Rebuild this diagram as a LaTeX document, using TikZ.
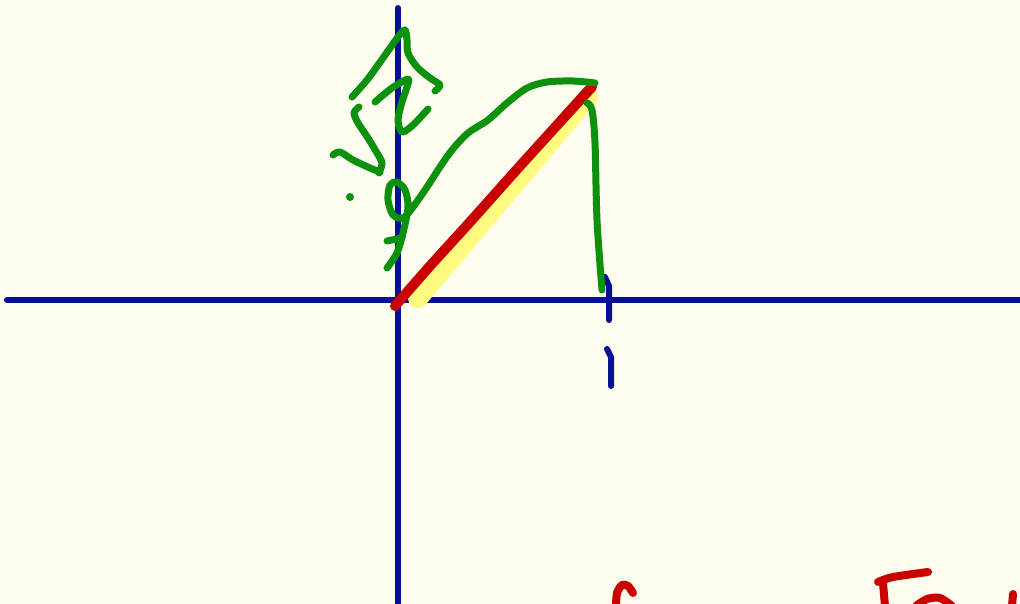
\documentclass[tikz,border=0pt]{standalone}
\usepackage{xcolor}
\usepackage{tikz}
\definecolor{paper}{RGB}{254,252,238}
\definecolor{inkblue}{RGB}{6,16,150}
\definecolor{inkgreen}{RGB}{12,145,12}
\definecolor{inkred}{RGB}{202,0,0}
\definecolor{marker}{RGB}{255,250,128}
\tikzset{every picture/.style={line cap=round,line join=round},
 blueink/.style={inkblue,line width=6pt},
 greenink/.style={inkgreen,line width=7pt},
 redink/.style={inkred,line width=8pt},
 highlight/.style={marker,line width=20pt}}

\begin{document}
\begin{tikzpicture}[x=1pt,y=-1pt]
 \fill[paper] (0,0) rectangle (1020,604);
 \useasboundingbox (0,0) rectangle (1020,604);
 % axes and unit tick
 \draw[blueink] (7,300)--(1020,300);
 \draw[blueink] (398,8)--(398,604);
 \draw[blueink] (605,277)--(609,286)--(609,320);
 \draw[blueink] (607,349)--(611,357)--(611,386);
 % highlighted diagonal
 \draw[highlight] (418,298)--(588,97);
 \draw[blueink] (397,301)--(587,89);
 \draw[redink,line width=10pt] plot[smooth] coordinates
  {(395,306) (430,266) (470,222) (520,166) (560,122) (592,87)};
 % sqrt 2 scribble
 \draw[greenink] plot[smooth] coordinates
  {(352,97) (367,80) (383,58) (398,37) (405,30) (407,40) (408,53)
   (417,67) (430,78) (440,85) (435,91)};
 \draw[greenink] plot[smooth] coordinates
  {(375,102) (392,88) (408,79) (407,87) (402,102) (398,120) (402,132)
   (413,125) (428,109)};
 \draw[greenink] plot[smooth] coordinates
  {(359,107) (354,113) (358,123) (368,138) (377,153) (382,163) (379,173)};
 \draw[greenink] plot[smooth] coordinates
  {(333,155) (340,152) (353,160) (370,168) (380,172)};
 \fill[inkgreen] (350,197) circle (4);
 % arc over the diagonal
 \draw[greenink] plot[smooth] coordinates
  {(387,268) (397,253) (403,233) (408,207) (405,190) (397,182) (390,185)
   (388,200) (393,215) (403,218) (413,207) (427,187) (440,167) (452,150)
   (468,133) (488,120) (507,103) (527,88) (547,82) (573,81) (595,83)};
 \draw[greenink] (387,241)--(402,238);
 \draw[greenink] plot[smooth] coordinates
  {(587,103) (592,110) (595,143) (597,220) (602,290)};
 % red writing cut off at the bottom
 \draw[redink] plot[smooth] coordinates
  {(633,593) (628,586) (622,585) (617,593) (616,606)};
 \draw[redink] plot[smooth] coordinates {(878,582) (893,577) (928,572)};
 \draw[redink] (883,583)--(885,606);
 \draw[redink] plot[smooth] coordinates {(916,606) (927,599) (940,598) (952,606)};
 \draw[redink] (1013,594)--(1012,606);
\end{tikzpicture}
\end{document}
